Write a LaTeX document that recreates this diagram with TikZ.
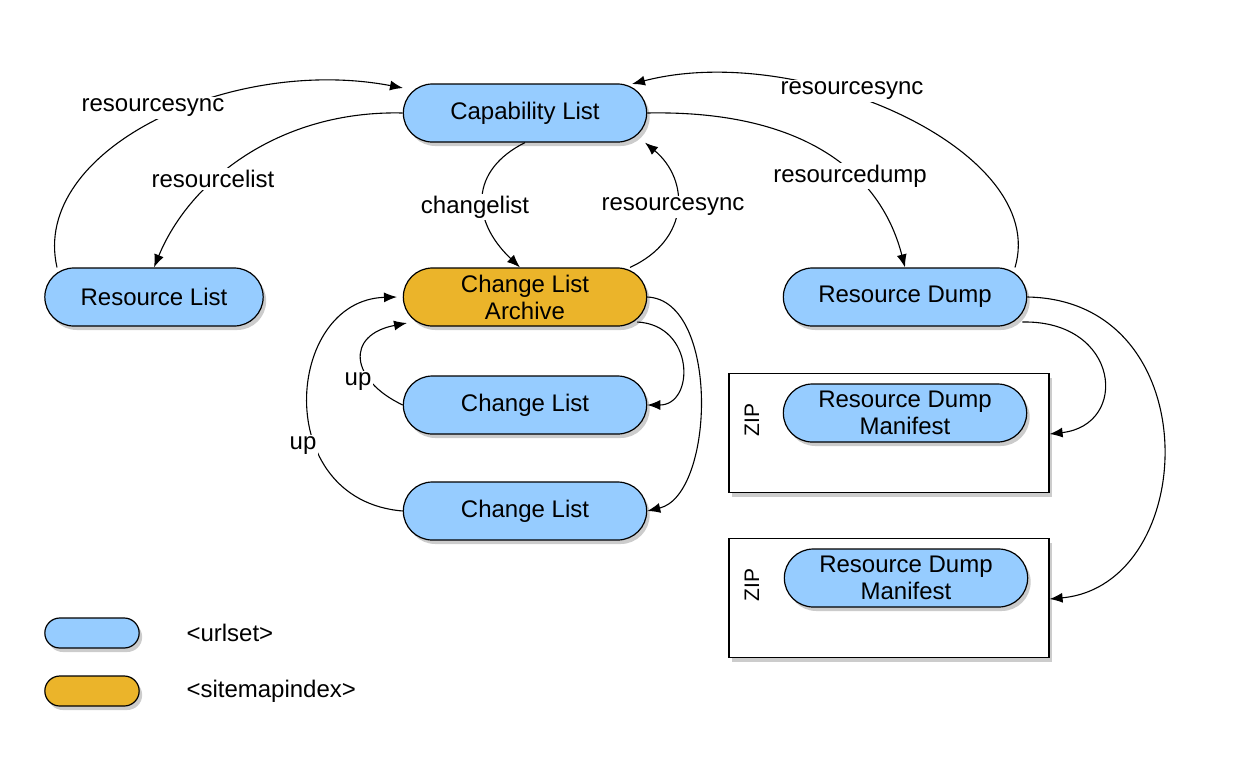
\documentclass[tikz,border=0pt]{standalone}
\usepackage{fontspec}
\setmainfont{Liberation Sans}
\usetikzlibrary{shapes.misc,arrows.meta,shadows}
\definecolor{pblue}{RGB}{150,204,255}
\definecolor{porange}{RGB}{235,180,42}
\begin{document}
\begin{tikzpicture}[x=1pt,y=-1pt,
  pill/.style={rounded rectangle,draw=black,line width=1.2pt,minimum width=250pt,minimum height=58pt,align=center,font=\fontsize{24}{27}\selectfont,fill=pblue,drop shadow={shadow xshift=3pt,shadow yshift=-4pt,fill=black!40}},
  zipbox/.style={draw=black,line width=1.2pt,fill=white,minimum width=320pt,minimum height=119pt,drop shadow={shadow xshift=3pt,shadow yshift=-4pt,fill=black!40}},
  conn/.style={line width=1.1pt,-{Latex[length=13pt,width=10pt]}},
  lbl/.style={fill=white,font=\fontsize{24}{27}\selectfont,inner sep=2pt}]
\useasboundingbox (0,0) rectangle (1234,756);
\node[pill] (cap) at (525,113) {Capability List};
\node[pill,minimum width=225pt] (rl) at (154,297) {Resource List};
\node[pill,fill=porange] (cla) at (525,297) {Change List\\Archive};
\node[pill] (rd) at (905,297) {Resource Dump};
\node[pill] (cl1) at (525,405) {Change List};
\node[pill] (cl2) at (525,511) {Change List};
\node[zipbox] (z1) at (889,433) {};
\node[zipbox] (z2) at (889,598) {};
\node[pill] (m1) at (905,413) {Resource Dump\\Manifest};
\node[pill] (m2) at (906,578) {Resource Dump\\Manifest};
\node[rotate=90,font=\fontsize{21}{23}\selectfont] (zl1) at (752,420) {ZIP};
\node[rotate=90,font=\fontsize{21}{23}\selectfont] (zl2) at (752,585) {ZIP};
\node[pill,minimum width=101pt,minimum height=30pt] (lg1) at (92,633) {};
\node[pill,minimum width=101pt,minimum height=30pt,fill=porange] (lg2) at (92,691) {};
\node[font=\fontsize{24}{27}\selectfont,anchor=west] (lt1) at (183,633) {<urlset>};
\node[font=\fontsize{24}{27}\selectfont,anchor=west] (lt2) at (183,691) {<sitemapindex>};
% connectors
\draw[conn] ([xshift=-97pt]rl.north) .. controls (30,150) and (230,55) .. ([xshift=-122pt,yshift=25pt]cap.center);
\node[lbl] at (153,108) {resourcesync};
\draw[conn] (cap.west) .. controls (280,110) and (190,180) .. (rl.north);
\node[lbl] at (213,179) {resourcelist};
\draw[conn] (cap.south) .. controls (470,170) and (470,220) .. ([xshift=-5pt]cla.north);
\node[lbl] at (475,207) {changelist};
\draw[conn] ([xshift=105pt]cla.north) .. controls (690,240) and (690,180) .. ([xshift=120pt]cap.south);
\node[lbl] at (673,207) {resourcesync};
\draw[conn] (cap.east) .. controls (800,110) and (880,170) .. (rd.north);
\node[lbl] at (850,176) {resourcedump};
\draw[conn] ([xshift=110pt]rd.north) .. controls (1050,150) and (800,40) .. ([xshift=107pt,yshift=29pt]cap.center);
\node[lbl] at (852,91) {resourcesync};
\draw[conn] ([xshift=-10pt,yshift=-25pt]cla.east) .. controls (695,325) and (695,405) .. (cl1.east);
\draw[conn] (cla.east) .. controls (720,300) and (715,495) .. (cl2.east);
\draw[conn] (cl1.west) .. controls (350,380) and (345,335) .. ([xshift=-118pt,yshift=-26pt]cla.center);
\node[lbl] at (358,382) {up};
\draw[conn] (cl2.west) .. controls (270,500) and (285,300) .. ([xshift=-128pt]cla.center);
\node[lbl] at (303,446) {up};
\draw[conn] ([xshift=-5pt,yshift=-25pt]rd.east) .. controls (1120,320) and (1130,425) .. ([yshift=-1pt]z1.east);
\draw[conn] (rd.east) .. controls (1210,300) and (1200,585) .. ([yshift=-1pt]z2.east);
\end{tikzpicture}
\end{document}
